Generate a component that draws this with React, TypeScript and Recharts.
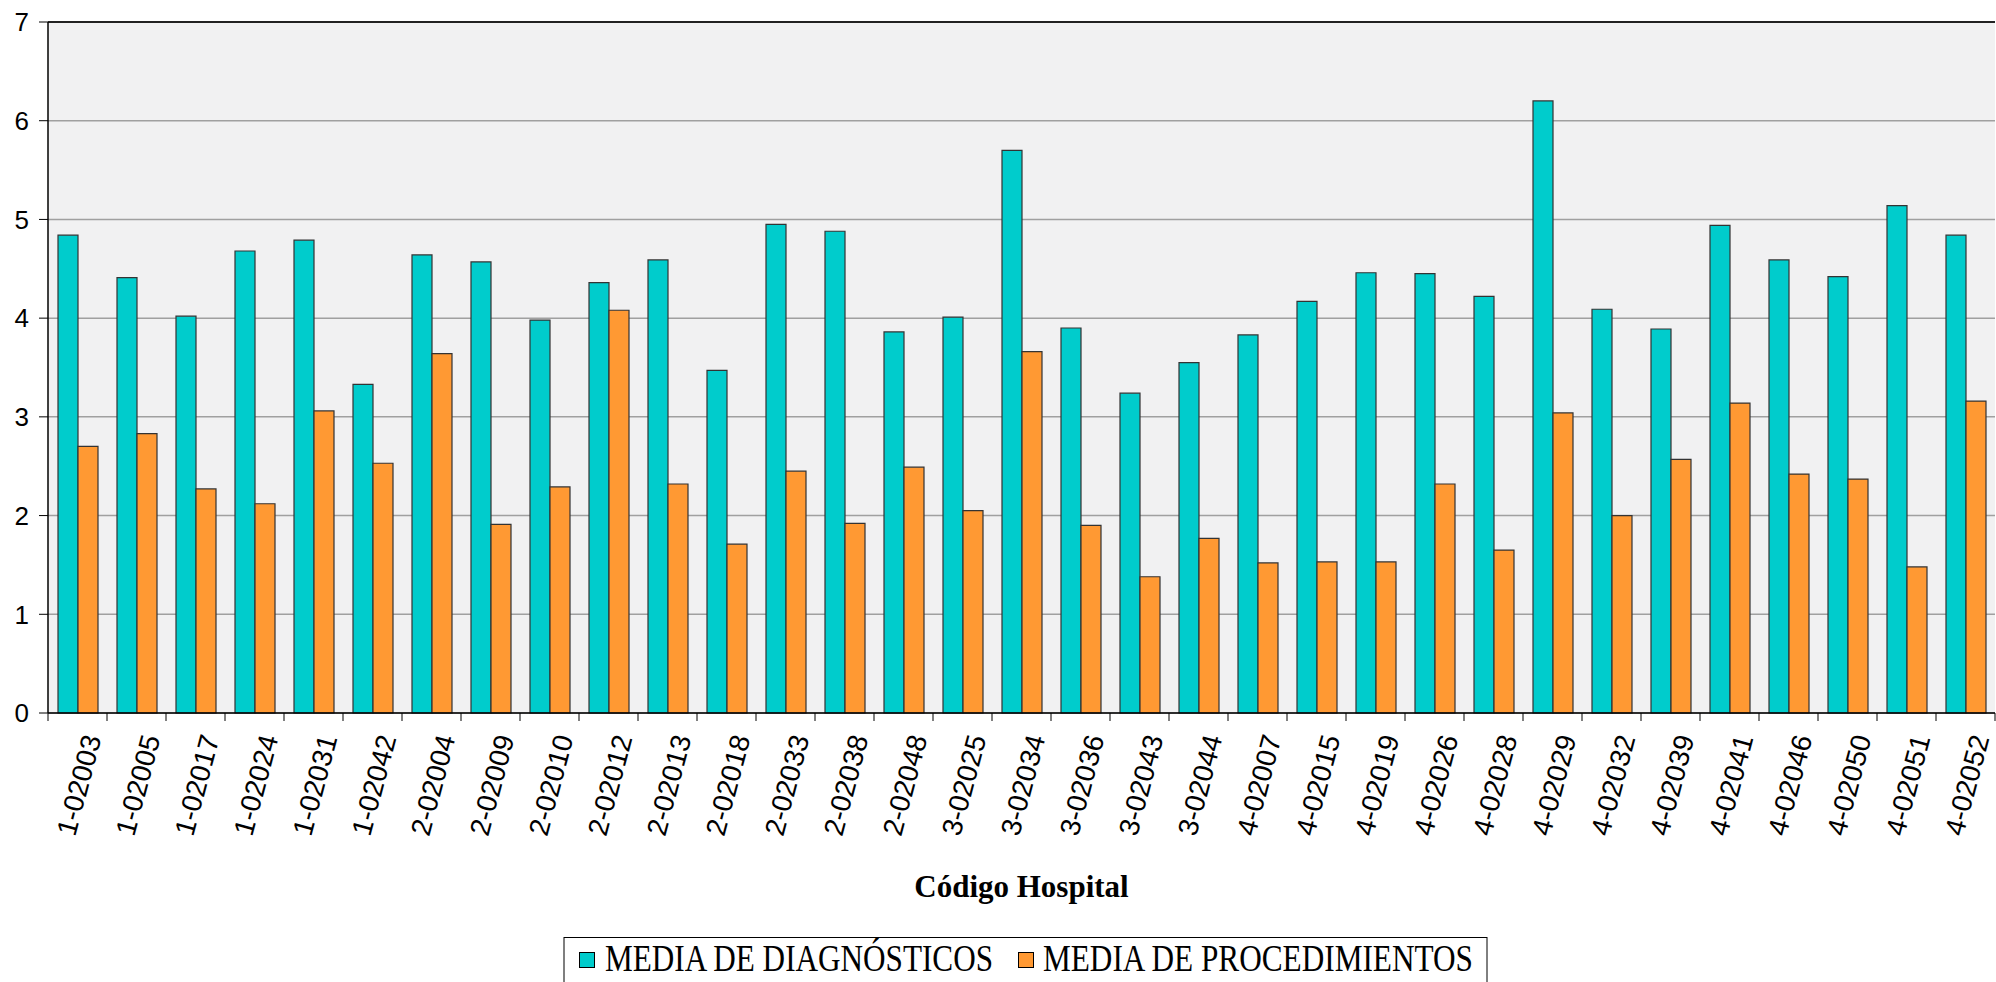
import {
  BarChart,
  Bar,
  XAxis,
  YAxis,
  CartesianGrid,
  ReferenceLine,
  Label,
} from 'recharts';

const hospitals = [
  '1-02003', '1-02005', '1-02017', '1-02024', '1-02031', '1-02042',
  '2-02004', '2-02009', '2-02010', '2-02012', '2-02013', '2-02018',
  '2-02033', '2-02038', '2-02048', '3-02025', '3-02034', '3-02036',
  '3-02043', '3-02044', '4-02007', '4-02015', '4-02019', '4-02026',
  '4-02028', '4-02029', '4-02032', '4-02039', '4-02041', '4-02046',
  '4-02050', '4-02051', '4-02052',
];

const diagnosticos = [
  4.84, 4.41, 4.02, 4.68, 4.79, 3.33, 4.64, 4.57, 3.98, 4.36, 4.59, 3.47,
  4.95, 4.88, 3.86, 4.01, 5.7, 3.9, 3.24, 3.55, 3.83, 4.17, 4.46, 4.45,
  4.22, 6.2, 4.09, 3.89, 4.94, 4.59, 4.42, 5.14, 4.84,
];

const procedimientos = [
  2.7, 2.83, 2.27, 2.12, 3.06, 2.53, 3.64, 1.91, 2.29, 4.08, 2.32, 1.71,
  2.45, 1.92, 2.49, 2.05, 3.66, 1.9, 1.38, 1.77, 1.52, 1.53, 1.53, 2.32,
  1.65, 3.04, 2.0, 2.57, 3.14, 2.42, 2.37, 1.48, 3.16,
];

const yTicks = [0, 1, 2, 3, 4, 5, 6, 7];

const data = hospitals.map((codigo, i) => ({
  codigo,
  diag: diagnosticos[i],
  proc: procedimientos[i],
}));

const TEAL = '#00cccc';
const ORANGE = '#ff9933';
const SANS = '"Liberation Sans", Arial, sans-serif';
const SERIF = '"Liberation Serif", "Times New Roman", serif';

// half of one category band (plot 1947px / 33 categories)
const HALF_BAND = 1947 / hospitals.length / 2;

const HospitalTick = (props: any) => {
  const { x, y, payload, index } = props;
  const tx = x + 24;
  const ty = y + 25;
  return (
    <g>
      <line x1={x - HALF_BAND} y1={y} x2={x - HALF_BAND} y2={y + 8} stroke="#000" />
      {index === hospitals.length - 1 && (
        <line x1={x + HALF_BAND} y1={y} x2={x + HALF_BAND} y2={y + 8} stroke="#000" />
      )}
      <text
        x={tx}
        y={ty}
        transform={`rotate(-75, ${tx}, ${ty})`}
        textAnchor="end"
        fontSize={28}
        fontFamily={SANS}
        fill="#000"
      >
        {payload.value}
      </text>
    </g>
  );
};

const AxisTitle = (props: any) => {
  const { viewBox } = props;
  return (
    <text
      x={viewBox.x + viewBox.width / 2}
      y={viewBox.y + 184}
      textAnchor="middle"
      fontSize={31}
      fontWeight="bold"
      fontFamily={SERIF}
      fill="#000"
    >
      Código Hospital
    </text>
  );
};

const LegendBox = () => (
  <svg
    width={1996}
    height={982}
    style={{ position: 'absolute', left: 0, top: 0, pointerEvents: 'none' }}
  >
    <rect x={564} y={937.5} width={923} height={60} fill="#fff" stroke="#000" strokeWidth={1} />
    <rect x={579.5} y={952.5} width={15} height={15} fill={TEAL} stroke="#000" />
    <text
      x={605}
      y={971}
      fontSize={37}
      fontFamily={SERIF}
      textLength={388}
      lengthAdjust="spacingAndGlyphs"
      fill="#000"
    >
      MEDIA DE DIAGNÓSTICOS
    </text>
    <rect x={1018.5} y={952.5} width={15} height={15} fill={ORANGE} stroke="#000" />
    <text
      x={1043}
      y={971}
      fontSize={37}
      fontFamily={SERIF}
      textLength={430}
      lengthAdjust="spacingAndGlyphs"
      fill="#000"
    >
      MEDIA DE PROCEDIMIENTOS
    </text>
  </svg>
);

export default function App() {
  return (
    <div
      style={{
        position: 'absolute',
        left: 0,
        top: 0,
        width: 1996,
        height: 982,
        background: '#fff',
        overflow: 'hidden',
      }}
    >
      <BarChart
        width={1996}
        height={982}
        data={data}
        margin={{ top: 22, right: 1, bottom: 0, left: 0 }}
        barCategoryGap={10}
        barGap={0}
      >
        <CartesianGrid
          vertical={false}
          fill="#f1f1f2"
          stroke="#a0a0a0"
          strokeWidth={1.5}
        />
        <XAxis
          dataKey="codigo"
          height={269}
          interval={0}
          tickLine={false}
          tickSize={0}
          tickMargin={0}
          axisLine={{ stroke: '#000', strokeWidth: 1.5 }}
          tick={<HospitalTick />}
        >
          <Label content={<AxisTitle />} />
        </XAxis>
        <YAxis
          width={48}
          domain={[0, 7]}
          ticks={yTicks}
          interval={0}
          tickSize={9}
          tickMargin={10}
          axisLine={{ stroke: '#000', strokeWidth: 1.5 }}
          tickLine={{ stroke: '#000' }}
          tick={{ fontSize: 26, fontFamily: SANS, fill: '#000' }}
        />
        <ReferenceLine y={7} stroke="#222" strokeWidth={2} />
        <Bar
          dataKey="diag"
          name="MEDIA DE DIAGNÓSTICOS"
          fill={TEAL}
          stroke="#333"
          strokeWidth={1.2}
          isAnimationActive={false}
        />
        <Bar
          dataKey="proc"
          name="MEDIA DE PROCEDIMIENTOS"
          fill={ORANGE}
          stroke="#333"
          strokeWidth={1.2}
          isAnimationActive={false}
        />
      </BarChart>
      <LegendBox />
    </div>
  );
}
